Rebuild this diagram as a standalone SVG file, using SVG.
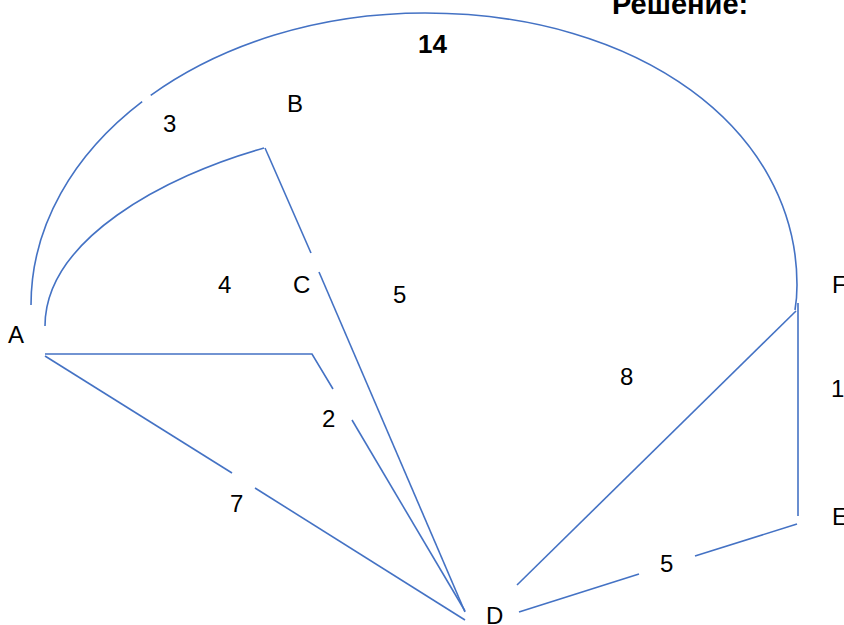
<svg xmlns="http://www.w3.org/2000/svg" width="844" height="625" viewBox="0 0 844 625">
  <style>
    .edge { fill: none; stroke: #4472C4; stroke-width: 1.6; stroke-linecap: butt; stroke-linejoin: miter; }
    .lbl { font-family: "Liberation Sans", Arial, sans-serif; font-size: 24px; fill: #000; }
    .bold { font-weight: bold; }
  </style>
  <rect width="844" height="625" fill="#fff"/>

  <!-- title -->
  <text class="lbl bold" x="612" y="14" style="font-size:29px">Решение:</text>

  <!-- edges -->
  <g id="connectors">
    <!-- A–F big arc (weight 14), with the break for A–B's label 3 -->
    <path class="edge" d="M31,305 C31,225.96 73.36,154.27 142.15,101.71"/>
    <path class="edge" d="M150.71,95.36 C221.64,44.38 318.38,13 425,13 C638,13 797,128 797,285 C797,297 796,304 795,310"/>
    <!-- A–B arc -->
    <path class="edge" d="M45,326 C45,240 164,176 264,148"/>
    <!-- B–C–D straight line, broken at C -->
    <path class="edge" d="M265,148 L311,253"/>
    <path class="edge" d="M319,272 L465,612"/>
    <!-- A–D bent line (weight 2) -->
    <path class="edge" d="M45,354 L312,354 L333,389"/>
    <path class="edge" d="M352,420 L465,611"/>
    <!-- A–D (weight 7) -->
    <path class="edge" d="M45,356 L232,473"/>
    <path class="edge" d="M255,488 L465,620"/>
    <!-- D–F (weight 8) -->
    <path class="edge" d="M517,585 L796,311"/>
    <!-- F–E -->
    <path class="edge" d="M798,303 L798,516"/>
    <!-- D–E (weight 5) -->
    <path class="edge" d="M519,612 L639,574"/>
    <path class="edge" d="M695,556 L797,524"/>
  </g>

  <!-- edge weights -->
  <g id="weights">
    <text class="lbl bold" x="418" y="53" style="font-size:26px">14</text>
    <text class="lbl" x="163" y="132">3</text>
    <text class="lbl" x="218" y="293">4</text>
    <text class="lbl" x="393" y="303">5</text>
    <text class="lbl" x="322" y="427">2</text>
    <text class="lbl" x="230" y="512">7</text>
    <text class="lbl" x="620" y="385">8</text>
    <text class="lbl" x="831" y="397">1</text>
    <text class="lbl" x="660" y="572">5</text>
  </g>

  <!-- vertices -->
  <g id="node-A"><text class="lbl" x="8" y="343">A</text></g>
  <g id="node-B"><text class="lbl" x="287" y="112">B</text></g>
  <g id="node-C"><text class="lbl" x="293" y="293">C</text></g>
  <g id="node-D"><text class="lbl" x="486" y="624">D</text></g>
  <g id="node-E"><text class="lbl" x="832" y="525">E</text></g>
  <g id="node-F"><text class="lbl" x="832" y="293">F</text></g>
</svg>
